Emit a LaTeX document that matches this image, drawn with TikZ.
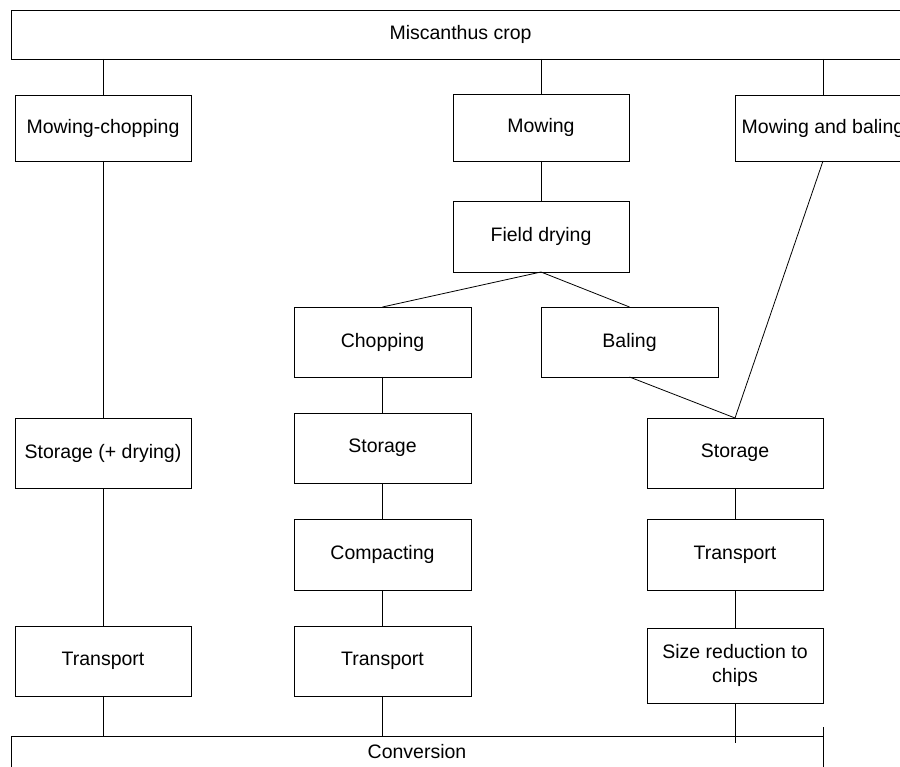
\documentclass[tikz,border=0pt]{standalone}
\usepackage{fontspec}
\setmainfont{Liberation Sans}
\tikzset{
  box/.style={draw=black, line width=0.8pt, rectangle, inner sep=0pt, outer sep=0pt, align=center, font=\fontsize{19.5}{23.5}\selectfont},
  link/.style={draw=black, line width=0.8pt}
}
\begin{document}
\begin{tikzpicture}[x=1pt,y=-1pt]
\clip (0,0) rectangle (900,767);
\fill[white] (0,0) rectangle (900,767);
% boxes
\node[box, minimum width=899pt, minimum height=49pt] (crop) at (460.5,34.5) {Miscanthus crop};
\node[box, minimum width=176pt, minimum height=66pt] (mc) at (103,128) {Mowing-chopping};
\node[box, minimum width=176pt, minimum height=67pt] (mow) at (541,127.5) {Mowing};
\node[box, minimum width=176pt, minimum height=66pt] (mab) at (823,128) {Mowing and baling};
\node[box, minimum width=176pt, minimum height=71pt] (fd) at (541,236.5) {Field drying};
\node[box, minimum width=177pt, minimum height=70pt] (chop) at (382.5,342) {Chopping};
\node[box, minimum width=177pt, minimum height=70pt] (bal) at (629.5,342) {Baling};
\node[box, minimum width=176pt, minimum height=70pt] (sdry) at (103,453) {Storage (+ drying)};
\node[box, minimum width=177pt, minimum height=70pt] (smid) at (382.5,448) {Storage};
\node[box, minimum width=176pt, minimum height=70pt] (sright) at (735,453) {Storage};
\node[box, minimum width=177pt, minimum height=71pt] (comp) at (382.5,554.5) {Compacting};
\node[box, minimum width=176pt, minimum height=71pt] (tright) at (735,554.5) {Transport};
\node[box, minimum width=176pt, minimum height=70pt] (tleft) at (103,661) {Transport};
\node[box, minimum width=177pt, minimum height=70pt] (tmid) at (382.5,661) {Transport};
\node[box, minimum width=176pt, minimum height=75pt] (size) at (735,665.5) {Size reduction to\\chips};
\node[box, minimum width=812pt, minimum height=32pt] (conv) at (417,752) {Conversion};
\coordinate (sizeend) at (735,743);
\coordinate (convstub) at (823,727);
% connectors
\draw[link] (crop.south -| mc.north) -- (mc.north);
\draw[link] (crop.south -| mow.north) -- (mow.north);
\draw[link] (crop.south -| mab.north) -- (mab.north);
\draw[link] (mc.south) -- (sdry.north);
\draw[link] (sdry.south) -- (tleft.north);
\draw[link] (tleft.south) -- (tleft.south |- conv.north);
\draw[link] (mow.south) -- (fd.north);
\draw[link] (fd.south) -- (chop.north);
\draw[link] (fd.south) -- (bal.north);
\draw[link] (chop.south) -- (smid.north);
\draw[link] (smid.south) -- (comp.north);
\draw[link] (comp.south) -- (tmid.north);
\draw[link] (tmid.south) -- (tmid.south |- conv.north);
\draw[link] (bal.south) -- (sright.north);
\draw[link] (mab.south) -- (sright.north);
\draw[link] (sright.south) -- (tright.north);
\draw[link] (tright.south) -- (size.north);
\draw[link] (size.south) -- (sizeend);
\draw[link] (conv.north east) -- (convstub);
\end{tikzpicture}
\end{document}
